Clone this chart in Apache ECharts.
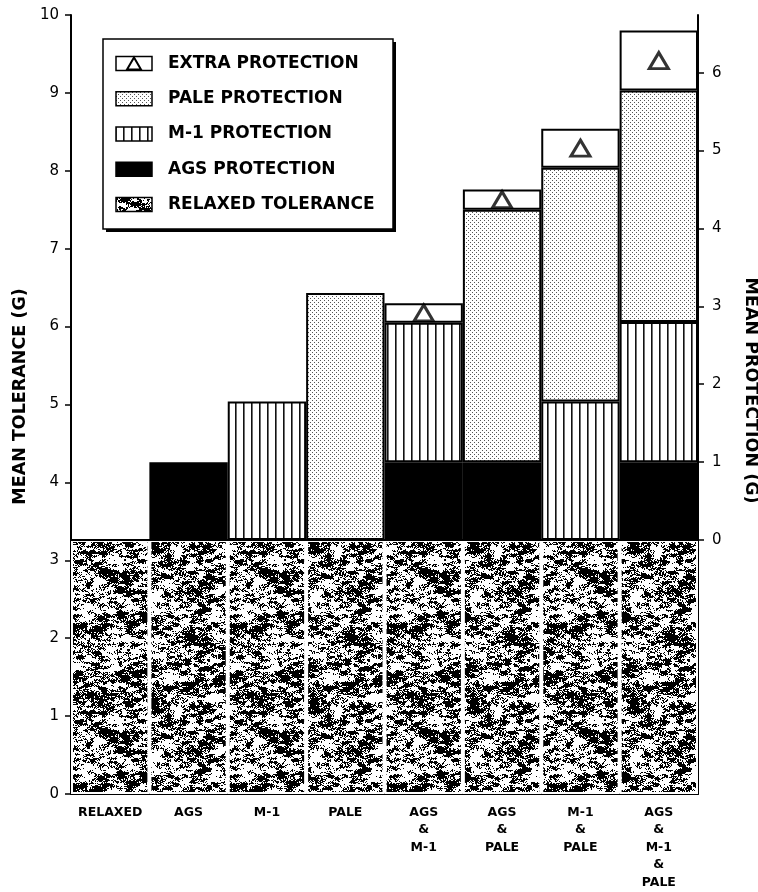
<!DOCTYPE html>
<html><head><meta charset="utf-8">
<script src="https://cdn.jsdelivr.net/npm/echarts@6/dist/echarts.min.js"></script>
<style>html,body{margin:0;padding:0;background:#fff}#c{width:758px;height:892px}</style>
</head><body><div id="c"></div>
<script>
// ---- data ----
const categories = ['RELAXED','AGS','M-1','PALE','AGS\n&\nM-1','AGS\n&\nPALE','M-1\n&\nPALE','AGS\n&\nM-1\n&\nPALE'];
const relaxedTolerance = [3.26,3.26,3.26,3.26,3.26,3.26,3.26,3.26];
const agsProtection   = [null,1.00,null,null,1.00,1.00,null,1.00];
const m1Protection    = [null,null,1.78,null,1.79,null,1.78,1.80];
const paleProtection  = [null,null,null,3.17,null,3.24,3.00,2.97];
const extraProtection = [null,null,null,null,0.25,0.26,0.50,0.77];
const leftTicks  = [0,1,2,3,4,5,6,7,8,9,10];
const rightTicks = [0,1,2,3,4,5,6];
const legendLabels = ['EXTRA PROTECTION','PALE PROTECTION','M-1 PROTECTION','AGS PROTECTION','RELAXED TOLERANCE'];
const leftTitle = 'MEAN TOLERANCE (G)';
const rightTitle = 'MEAN PROTECTION (G)';

// ---- fill textures (decorative only) ----
function makeCanvas(w,h,draw){const c=document.createElement('canvas');c.width=w;c.height=h;const g=c.getContext('2d');draw(g,w,h);return c;}
let seed = 24680;
function rnd(){ seed = (seed*1103515245 + 12345) & 0x7fffffff; return seed/0x7fffffff; }
function valueNoise(w,h,cw,ch){
  const cols=Math.round(w/cw), rows=Math.round(h/ch), grid=[];
  for(let r=0;r<rows;r++){grid[r]=[];for(let c=0;c<cols;c++)grid[r][c]=rnd();}
  const sm=t=>t*t*(3-2*t);
  return (x,y)=>{
    const gx=x/cw, gy=y/ch, x0=Math.floor(gx), y0=Math.floor(gy), fx=sm(gx-x0), fy=sm(gy-y0);
    const a=grid[y0%rows][x0%cols], b=grid[y0%rows][(x0+1)%cols], c=grid[(y0+1)%rows][x0%cols], d=grid[(y0+1)%rows][(x0+1)%cols];
    return (a*(1-fx)+b*fx)*(1-fy)+(c*(1-fx)+d*fx)*fy;
  };
}
const texCanvas = makeCanvas(160,160,(g,w,h)=>{
  const n0=valueNoise(w,h,20,10), n1=valueNoise(w,h,8,4), n2=valueNoise(w,h,4,2);
  const img=g.createImageData(w,h);
  for(let y=0;y<h;y++)for(let x=0;x<w;x++){
    const v=n0(x,y)*0.2+n1(x,y)*0.35+n2(x,y)*0.35+rnd()*0.3;
    const k=(y*w+x)*4; const b = v>0.6?0:255;
    img.data[k]=b;img.data[k+1]=b;img.data[k+2]=b;img.data[k+3]=255;
  }
  g.putImageData(img,0,0);
});
const m1Canvas = makeCanvas(8,8,(g)=>{g.fillStyle='#fff';g.fillRect(0,0,8,8);g.fillStyle='#111';g.fillRect(3,0,1.6,8);});
const paleCanvas = makeCanvas(4,4,(g)=>{g.fillStyle='#fff';g.fillRect(0,0,4,4);g.fillStyle='#555';g.fillRect(0,0,1,1);g.fillRect(2,2,1,1);});
const texFill  = {image: texCanvas, repeat:'repeat'};
const m1Fill   = {image: m1Canvas, repeat:'repeat'};
const paleFill = {image: paleCanvas, repeat:'repeat'};

// triangle markers sit in the middle of each extra-protection segment
const triangleData = categories.map((c,i)=>{
  if(extraProtection[i]==null) return null;
  const base = relaxedTolerance[i]+(agsProtection[i]||0)+(m1Protection[i]||0)+(paleProtection[i]||0);
  return [i, base+extraProtection[i]/2];
}).filter(d=>d);

const FONT='DejaVu Sans';
const border = {borderColor:'#000', borderWidth:2};

// ---- legend built as graphic elements ----
const legendFills = [
  {fill:'#fff'}, {fill:paleFill}, {fill:m1Fill}, {fill:'#000'}, {fill:texFill}
];
const legendEls = [
  {type:'rect', shape:{x:106,y:42,width:290,height:190}, style:{fill:'#000'}},
  {type:'rect', shape:{x:103,y:39,width:290,height:190}, style:{fill:'#fff', stroke:'#000', lineWidth:1.5}}
];
legendLabels.forEach((t,i)=>{
  const cy = 63.5 + i*35.25;
  legendEls.push({type:'rect', shape:{x:116,y:cy-7,width:36,height:14}, style:Object.assign({stroke:'#000', lineWidth:1.5}, legendFills[i])});
  if(i===0){
    legendEls.push({type:'polygon', shape:{points:[[127,cy+6],[141,cy+6],[134,cy-6]]}, style:{fill:'#fff', stroke:'#000', lineWidth:2}});
  }
  legendEls.push({type:'text', x:168, y:cy, style:{text:t, fill:'#000', font:'bold 17px "'+FONT+'"', verticalAlign:'middle', align:'left'}});
});

const chart = echarts.init(document.getElementById('c'), null, {renderer:'canvas'});
chart.setOption({
  animation:false,
  backgroundColor:'#fff',
  grid:[
    {left:71, right:60, top:15, bottom:98, outerBoundsMode:'none', containLabel:false},
    {left:71, right:60, top:15, bottom:352, outerBoundsMode:'none', containLabel:false}
  ],
  xAxis:[
    {type:'category', gridIndex:0, data:categories,
     axisLine:{show:true, lineStyle:{color:'#000', width:2}}, axisTick:{show:false},
     axisLabel:{interval:0, color:'#000', fontFamily:FONT, fontWeight:'bold', fontSize:12.5, lineHeight:17.5, margin:9.5}},
    {type:'category', gridIndex:1, data:categories, show:false}
  ],
  yAxis:[
    {type:'value', gridIndex:0, position:'left', min:0, max:10, interval:1,
     axisLine:{show:true, lineStyle:{color:'#000', width:2}},
     axisTick:{show:true, length:6, lineStyle:{color:'#000', width:1.5}},
     axisLabel:{color:'#000', fontFamily:FONT, fontSize:15, margin:12},
     splitLine:{show:false},
     name:leftTitle, nameLocation:'middle', nameGap:36, nameRotate:90,
     nameTextStyle:{color:'#000', fontFamily:FONT, fontWeight:'bold', fontSize:17.5, padding:[0,0,0,16]}},
    {type:'value', gridIndex:0, position:'right', min:0, max:10,
     axisLine:{show:true, lineStyle:{color:'#000', width:2}},
     axisTick:{show:false}, axisLabel:{show:false}, splitLine:{show:false},
     name:rightTitle, nameLocation:'middle', nameGap:44, nameRotate:-90,
     nameTextStyle:{color:'#000', fontFamily:FONT, fontWeight:'bold', fontSize:17.5, padding:[0,28,0,0]}},
    {type:'value', gridIndex:1, position:'right', min:0, max:10-relaxedTolerance[0],
     axisLine:{show:false},
     axisTick:{show:true, length:6, customValues:rightTicks, lineStyle:{color:'#000', width:1.5}},
     axisLabel:{customValues:rightTicks, color:'#000', fontFamily:FONT, fontSize:15, margin:14},
     splitLine:{show:false}}
  ],
  series:[
    {type:'bar', name:legendLabels[4], stack:'t', data:relaxedTolerance, barCategoryGap:'0%', barWidth:'100%',
     itemStyle:{color:texFill, borderColor:'#fff', borderWidth:2},
     markLine:{silent:true, symbol:'none', label:{show:false}, lineStyle:{color:'#000', width:2, type:'solid'}, data:[{yAxis:relaxedTolerance[0]}]}},
    {type:'bar', name:legendLabels[3], stack:'t', data:agsProtection, itemStyle:Object.assign({color:'#000'}, border)},
    {type:'bar', name:legendLabels[2], stack:'t', data:m1Protection, itemStyle:Object.assign({color:m1Fill}, border)},
    {type:'bar', name:legendLabels[1], stack:'t', data:paleProtection, itemStyle:Object.assign({color:paleFill}, border)},
    {type:'bar', name:legendLabels[0], stack:'t', data:extraProtection, itemStyle:Object.assign({color:'#fff'}, border)},
    {type:'scatter', name:'extra marker', data:triangleData, symbol:'triangle', symbolSize:[19,16],
     itemStyle:{color:'#fff', borderColor:'#000', borderWidth:3}, z:5}
  ],
  graphic: legendEls
});
</script></body></html>
